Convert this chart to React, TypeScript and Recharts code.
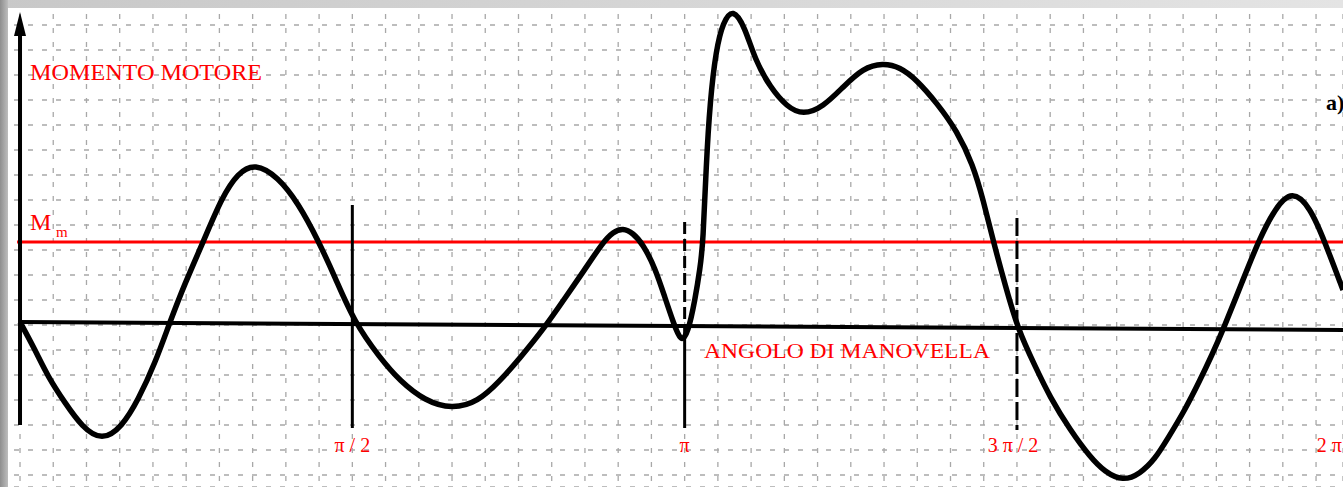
import { LineChart, Line, XAxis, YAxis, CartesianGrid, ReferenceLine, ReferenceDot } from 'recharts'

// crank angle in degrees, engine torque in arbitrary units
const ANGLE = [
  0, 4.1, 7.6, 12.2, 16.8, 22.2, 27.6, 32.0, 36.6, 40.6,
  44.7, 49.6, 54.7, 59.0, 63.6, 69.9, 75.3, 80.7, 85.3, 90.5,
  97.5, 102.9, 109.7, 117.0, 124.0, 130.0, 135.4, 142.2, 147.6, 152.5,
  157.9, 160.6, 163.3, 166.0, 168.7, 172.0, 174.7, 176.9, 179.0, 180.9,
  182.8, 184.2, 185.0, 185.8, 186.9, 188.5, 190.4, 193.1, 196.3, 199.1,
  203.1, 207.7, 212.1, 217.5, 222.9, 228.3, 233.7, 238.3, 242.9, 248.3,
  253.8, 258.1, 260.8, 263.5, 266.8, 270.3, 274.9, 278.9, 284.4, 289.8,
  293.8, 298.7, 303.3, 307.4, 310.6, 315.5, 319.6, 322.8, 325.8, 331.2,
  335.3, 339.9, 344.5, 349.4, 353.4, 358.3,
]
const MOMENT = [
  0.3, -2.5, -5.2, -7.8, -10.2, -11.6, -10.2, -7.5, -3.8, 0.3,
  4.2, 8.3, 12.8, 15.2, 16.2, 14.8, 12.2, 8.5, 4.8, 0.3,
  -3.3, -5.6, -7.6, -8.4, -7.7, -5.6, -3.3, -0.2, 2.7, 5.3,
  8.3, 9.3, 9.7, 9.2, 8.1, 5.7, 2.7, 0.3, -1.8, -0.8,
  2.5, 5.7, 8.3, 15.8, 22.5, 27.5, 30.3, 31.7, 29.8, 26.5,
  23.8, 21.8, 21.0, 21.8, 23.8, 25.7, 26.2, 25.8, 24.5, 22.2,
  19.4, 16.0, 12.6, 8.5, 4.0, -0.5, -4.1, -7.2, -10.5, -13.2,
  -14.7, -15.6, -14.9, -13.4, -11.5, -8.5, -5.5, -3.0, -0.5, 4.5,
  8.3, 11.7, 13.5, 11.8, 8.3, 3.5,
]
const MEAN_MOMENT = 8.3
const AXIS_TILT = [0.3, -0.5] // scanned zero line is slightly skewed

const TICKS = [90, 180, 270, 360]
const TICK_LABELS = ['π / 2', 'π', '3 π / 2', '2 π']

const GRID_X = [
  0, 9, 18, 27, 36, 45, 54, 63, 72, 81, 90, 99, 108, 117, 126, 135, 144, 153, 162, 171,
  180, 189, 198, 207, 216, 225, 234, 243, 252, 261, 270, 279, 288, 297, 306, 315, 324, 333, 342, 351,
]
const GRID_Y = [-15, -12.5, -10, -7.5, -5, -2.5, 0, 2.5, 5, 7.5, 10, 12.5, 15, 17.5, 20, 22.5, 25, 27.5, 30]

const data = ANGLE.map((a, i) => ({ angle: a, m: MOMENT[i] }))

const RED = '#ff0000'
const SERIF = '"Liberation Serif", "DejaVu Serif", serif'
const TICK_DX = [0, 0, -4, -20]

function AngleTick({ x, index }: any) {
  return (
    <text x={x + TICK_DX[index]} y={452} textAnchor="middle" fill={RED} fontFamily={SERIF} fontSize={20}>
      {TICK_LABELS[index]}
    </text>
  )
}

function Arrow({ cx, cy }: any) {
  return <polygon points={`${cx},${cy} ${cx - 6},${cy + 24} ${cx + 6},${cy + 24}`} fill="#000" />
}

export default function App() {
  return (
    <div style={{ position: 'absolute', left: 0, top: 0, width: 1343, height: 487, background: '#fff', overflow: 'hidden' }}>
      <LineChart width={1343} height={487} data={data} margin={{ top: 0, right: 0, left: 0, bottom: 0 }}>
        <XAxis
          dataKey="angle"
          type="number"
          domain={[-5.42, 358.3]}
          allowDataOverflow
          ticks={TICKS}
          interval={0}
          mirror
          axisLine={false}
          tickLine={false}
          tick={<AngleTick />}
        />
        <XAxis xAxisId="grid" dataKey="angle" type="number" domain={[-5.42, 358.3]} allowDataOverflow ticks={GRID_X} hide />
        <YAxis type="number" domain={[-16.2, 32.5]} allowDataOverflow ticks={GRID_Y} hide />
        <CartesianGrid xAxisId="grid" stroke="#a8a8a8" strokeWidth={1.3} strokeDasharray="5 9" />

        <ReferenceLine segment={[{ x: -0.8, y: MEAN_MOMENT }, { x: 358.3, y: MEAN_MOMENT }]} stroke={RED} strokeWidth={3} />
        <ReferenceLine segment={[{ x: 0, y: AXIS_TILT[0] }, { x: 358.3, y: AXIS_TILT[1] }]} stroke="#000" strokeWidth={4} />
        <ReferenceLine segment={[{ x: 0, y: 29.5 }, { x: 0, y: -10 }]} stroke="#000" strokeWidth={4} />
        <ReferenceDot x={0} y={31.3} shape={<Arrow />} />

        <ReferenceLine segment={[{ x: 90, y: 12 }, { x: 90, y: -10.3 }]} stroke="#000" strokeWidth={3} />
        <ReferenceLine segment={[{ x: 180, y: 10.3 }, { x: 180, y: 0 }]} stroke="#000" strokeWidth={3} strokeDasharray="12 5" />
        <ReferenceLine segment={[{ x: 180, y: 0 }, { x: 180, y: -10.3 }]} stroke="#000" strokeWidth={3} />
        <ReferenceLine segment={[{ x: 270, y: 10.7 }, { x: 270, y: -10.5 }]} stroke="#000" strokeWidth={3} strokeDasharray="18 5" />

        <Line
          type="basis"
          dataKey="m"
          stroke="#000"
          strokeWidth={5.5}
          dot={false}
          activeDot={false}
          isAnimationActive={false}
        />
      </LineChart>

      <svg width={1343} height={487} style={{ position: 'absolute', left: 0, top: 0, pointerEvents: 'none' }}>
        <text x={30} y={80} fill={RED} fontFamily={SERIF} fontSize={23} textLength={232} lengthAdjust="spacingAndGlyphs">
          MOMENTO MOTORE
        </text>
        <text x={30} y={230} fill={RED} fontFamily={SERIF} fontSize={24}>M</text>
        <text x={56} y={237} fill={RED} fontFamily={SERIF} fontSize={15}>m</text>
        <text x={704} y={358} fill={RED} fontFamily={SERIF} fontSize={22} textLength={286} lengthAdjust="spacingAndGlyphs">
          ANGOLO DI MANOVELLA
        </text>
        <text x={1326} y={110} fill="#000" fontFamily={SERIF} fontSize={22} fontWeight="bold">a)</text>
      </svg>

      <div style={{ position: 'absolute', left: 0, top: 0, width: 1343, height: 8, background: 'linear-gradient(to right, #c8c8c8, #e4e4e4)' }} />
      <div style={{ position: 'absolute', left: 0, top: 0, width: 8, height: 487, background: 'linear-gradient(to right, #8e8e8e, #bdbdbd)' }} />
    </div>
  )
}
